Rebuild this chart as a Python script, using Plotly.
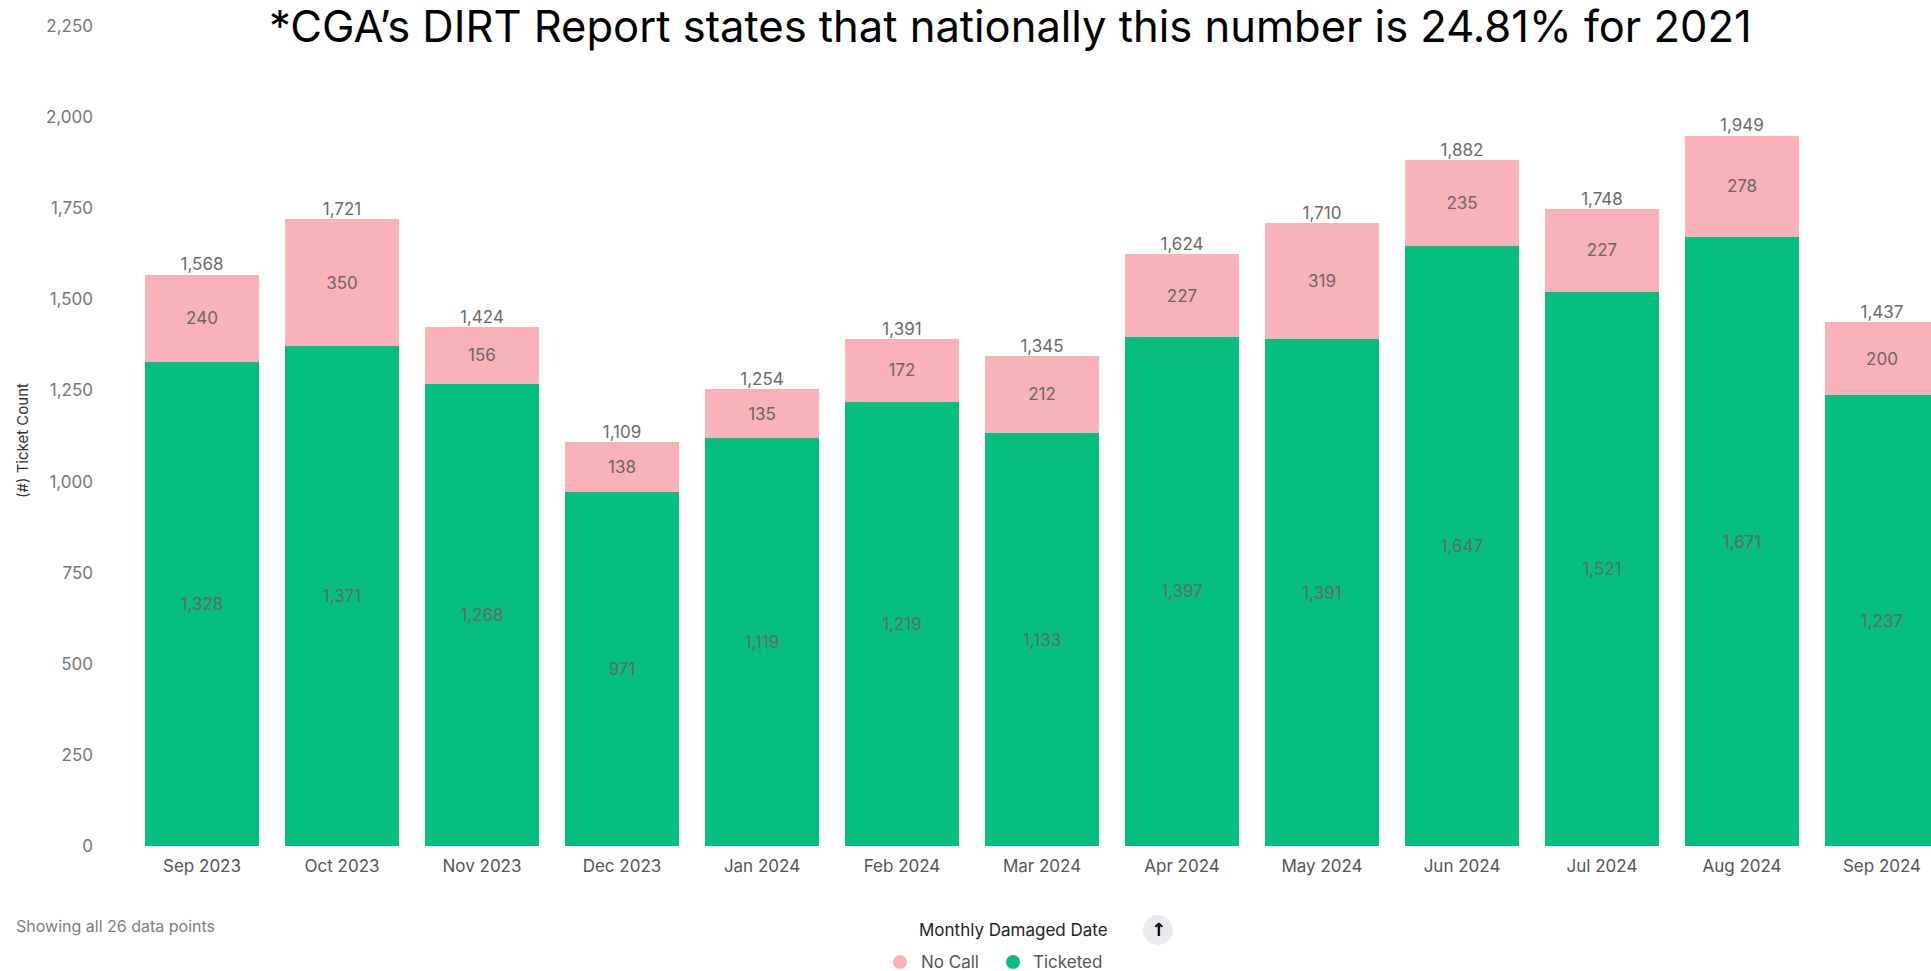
import plotly.graph_objects as go

# Monthly damage counts split by whether a locate ticket existed
months = ["Sep 2023", "Oct 2023", "Nov 2023", "Dec 2023", "Jan 2024", "Feb 2024",
          "Mar 2024", "Apr 2024", "May 2024", "Jun 2024", "Jul 2024", "Aug 2024", "Sep 2024"]
ticketed = [1328, 1371, 1268, 971, 1119, 1219, 1133, 1397, 1391, 1647, 1521, 1671, 1237]
no_call = [240, 350, 156, 138, 135, 172, 212, 227, 319, 235, 227, 278, 200]
totals = [t + n for t, n in zip(ticketed, no_call)]

y_ticks = [0, 250, 500, 750, 1000, 1250, 1500, 1750, 2000, 2250]

GREEN = "#06BE7D"
PINK = "#F9B2B8"
LABEL_GRAY = "#6a6a6a"
FONT = "Inter"

fig = go.Figure()

fig.add_trace(go.Bar(
    x=months, y=ticketed, name="Ticketed",
    marker=dict(color=GREEN, line=dict(width=0)),
    text=[f"{v:,}" for v in ticketed], textposition="inside",
    insidetextanchor="middle", textangle=0,
    textfont=dict(family=FONT, size=17, color="#5f6b64"),
))
fig.add_trace(go.Bar(
    x=months, y=no_call, name="No Call",
    marker=dict(color=PINK, line=dict(width=0)),
    text=[f"{v:,}" for v in no_call], textposition="inside",
    insidetextanchor="middle", textangle=0,
    textfont=dict(family=FONT, size=17, color="#6d6466"),
))
# Stack totals above each column
fig.add_trace(go.Scatter(
    x=months, y=totals, mode="text",
    text=[f"{v:,}" for v in totals], textposition="top center",
    textfont=dict(family=FONT, size=17, color=LABEL_GRAY),
    showlegend=False, hoverinfo="skip", cliponaxis=False,
))

fig.update_layout(
    width=1931, height=971,
    margin=dict(l=132, r=0, t=26, b=125),
    barmode="stack", bargap=0.18,
    plot_bgcolor="white", paper_bgcolor="white",
    showlegend=False,
    uniformtext=dict(mode=False),
    xaxis=dict(
        type="category", range=[-0.5, 12.35],
        showgrid=False, showline=False, zeroline=False, ticks="",
        tickfont=dict(family=FONT, size=17, color="#555555"),
        ticklabelstandoff=8,
    ),
    yaxis=dict(
        range=[0, 2250], tickvals=y_ticks, ticktext=[f"{v:,}" for v in y_ticks],
        showgrid=False, showline=False, zeroline=False, ticks="",
        tickfont=dict(family=FONT, size=17, color="#777777"),
        ticklabelstandoff=38,
    ),
)

annotations = [
    dict(text="*CGA\u2019s DIRT Report states that nationally this number is 24.81% for 2021",
         x=1010, y=26, showarrow=False, borderpad=0,
         font=dict(family=FONT, size=43.5, color="black")),
    dict(text="(#) Ticket Count", textangle=-90, showarrow=False,
         x=22, y=441, font=dict(family=FONT, size=15, color="#333333")),
    dict(text="Showing all 26 data points", showarrow=False, xanchor="left",
         x=14, y=926, font=dict(family=FONT, size=16, color="#7a7f8a")),
    dict(text="Monthly Damaged Date", showarrow=False, xanchor="left",
         x=917, y=930, font=dict(family=FONT, size=17, color="#222222")),
    dict(text="<b>\u2191</b>", showarrow=False, x=1158, y=929,
         font=dict(family="DejaVu Sans", size=18, color="black")),
    dict(text="No Call", showarrow=False, xanchor="left",
         x=919, y=962, font=dict(family=FONT, size=17, color="#555555")),
    dict(text="Ticketed", showarrow=False, xanchor="left",
         x=1031, y=962, font=dict(family=FONT, size=17, color="#555555")),
]

# Pixel-positioned overlay items: convert from page pixels to paper coords
W, H = 1931, 971
L, R, T, B = 132, 0, 26, 125
pw, ph = W - L - R, H - T - B

def px(x):
    return (x - L) / pw

def py(y):
    return (H - B - y) / ph

for a in annotations:
    a["xref"] = "paper"
    a["yref"] = "paper"
    a["x"] = px(a["x"])
    a["y"] = py(a["y"])
    a.setdefault("yanchor", "middle")
    a.setdefault("xanchor", "center")
fig.update_layout(annotations=annotations)

shapes = [
    dict(type="circle", xref="paper", yref="paper",
         x0=px(1143), x1=px(1173), y0=py(945), y1=py(915),
         fillcolor="#e8eaf0", line=dict(width=0), layer="below"),
    dict(type="circle", xref="paper", yref="paper",
         x0=px(893), x1=px(907), y0=py(969), y1=py(955),
         fillcolor=PINK, line=dict(width=0)),
    dict(type="circle", xref="paper", yref="paper",
         x0=px(1006), x1=px(1020), y0=py(969), y1=py(955),
         fillcolor=GREEN, line=dict(width=0)),
]
fig.update_layout(shapes=shapes)

fig.write_html("out.html")
